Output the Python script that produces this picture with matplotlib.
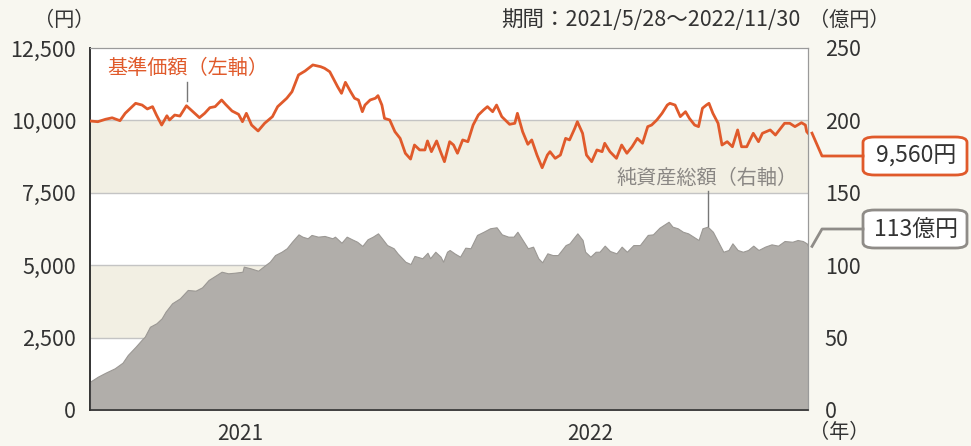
import pandas as pd
import matplotlib
matplotlib.use("Agg")
import matplotlib.pyplot as plt
import matplotlib.dates as mdates
from matplotlib.lines import Line2D
from matplotlib.patches import FancyBboxPatch

plt.rcParams['font.family'] = ['Noto Sans CJK JP', 'DejaVu Sans']

# period
start_date = "2021-05-28"
end_date = "2022-11-30"
period_label = "期間：2021/5/28～2022/11/30"

# 基準価額 (円) : days since start, value
nav_days = [0, 6, 12, 17, 23, 27, 35, 40, 44, 48, 51, 55, 59, 61, 65, 69, 74, 79, 84, 88,
            92, 96, 101, 104, 109, 114, 117, 120, 124, 129, 134, 140, 144, 151, 155, 160, 165,
            171, 177, 180, 184, 186, 190, 193, 196, 200, 203, 206, 209, 211, 215, 219, 221,
            224, 226, 230, 234, 238, 242, 246, 249, 253, 257, 259, 262, 266, 269, 272, 276,
            279, 282, 286, 290, 294, 298, 302, 305, 309, 312, 316, 320, 322, 326, 328, 332,
            336, 339, 343, 347, 351, 353, 357, 361, 365, 368, 372, 374, 378, 381, 385, 389,
            393, 395, 399, 404, 408, 412, 416, 420, 424, 428, 431, 435, 439, 443, 445, 449,
            453, 457, 460, 464, 467, 470, 473, 475, 478, 482, 485, 489, 493, 497, 500, 504,
            509, 513, 516, 522, 526, 530, 533, 537, 541, 546, 549, 550, 551]
nav_values = [9980, 9955, 10040, 10090, 9990, 10245, 10590, 10530, 10395, 10475, 10185, 9840,
              10160, 10015, 10185, 10150, 10505, 10300, 10095, 10245, 10440, 10475, 10705,
              10555, 10325, 10210, 9955, 10245, 9840, 9635, 9900, 10130, 10475, 10765, 10990,
              11570, 11705, 11915, 11855, 11800, 11680, 11510, 11165, 10935, 11315, 10990,
              10765, 10705, 10300, 10530, 10705, 10765, 10855, 10530, 10070, 10015, 9610,
              9380, 8865, 8665, 9150, 8980, 8980, 9290, 8920, 9290, 8920, 8575, 9265, 9150,
              8865, 9325, 9265, 9840, 10185, 10360, 10475, 10300, 10530, 10130, 9955, 9865,
              9900, 10245, 9610, 9175, 9325, 8805, 8365, 8805, 8920, 8690, 8805, 9380, 9325,
              9725, 9955, 9555, 8805, 8575, 8980, 8920, 9210, 8920, 8690, 9150, 8865, 9090,
              9380, 9210, 9785, 9840, 10015, 10245, 10530, 10590, 10530, 10130, 10300, 10070,
              9840, 9785, 10420, 10530, 10590, 10245, 9900, 9150, 9265, 9090, 9670, 9090,
              9090, 9555, 9265, 9555, 9670, 9495, 9725, 9900, 9900, 9785, 9920, 9840, 9610,
              9560]

# 純資産総額 (億円)
aum_days = [0, 6, 12, 19, 25, 29, 35, 40, 42, 46, 51, 55, 58, 63, 69, 75, 81, 86, 91, 97,
            101, 106, 111, 117, 118, 123, 129, 133, 138, 142, 147, 151, 155, 160, 163, 167,
            170, 175, 180, 186, 188, 193, 197, 201, 205, 209, 213, 217, 221, 224, 228, 233,
            236, 242, 246, 249, 255, 259, 261, 265, 269, 271, 274, 276, 280, 284, 288, 292,
            297, 302, 307, 312, 316, 321, 325, 328, 332, 336, 340, 344, 347, 351, 355, 359,
            365, 368, 371, 374, 378, 380, 384, 388, 391, 395, 399, 404, 408, 412, 417, 422,
            428, 432, 437, 444, 447, 451, 455, 459, 463, 467, 470, 474, 478, 482, 486, 490,
            493, 497, 501, 505, 509, 513, 518, 523, 528, 533, 539, 543, 547, 550, 551]
aum_values = [19.5, 23, 25.8, 28.8, 32.7, 38, 43.7, 48.8, 50.6, 57.5, 59.9, 63.3, 67.9, 73.7,
              77.1, 82.9, 82.4, 84.7, 89.8, 93.2, 95.5, 94.4, 94.8, 95.5, 99, 97.9, 96.2, 99,
              102.4, 107, 109.3, 111.7, 116.2, 121.3, 119.7, 118.6, 120.9, 119.7, 120.2, 118.6,
              119.7, 115.5, 119.7, 117.9, 116.2, 113.3, 117.9, 119.7, 122, 118.6, 113.9, 111.7,
              108.2, 102.4, 100.8, 106.4, 104.8, 108.6, 104.8, 109.3, 105.9, 102.4, 109.3,
              110.5, 108, 105.9, 112.1, 111.7, 120.9, 123.1, 125.5, 126.2, 121.3, 119.7, 119.7,
              123.1, 117.4, 111.7, 112.8, 104.8, 102, 108.2, 107, 107, 113.9, 115.1, 118.6, 122,
              117.4, 109.3, 105.9, 109.3, 109.3, 113.5, 109.8, 108.2, 112.8, 109.3, 113.9,
              113.9, 120.9, 121.3, 125.9, 130, 126.6, 125.5, 123.1, 122, 119.7, 117.4, 125.5,
              126.6, 123.1, 116.2, 109.3, 110.5, 115.1, 110.5, 109.3, 110.5, 113.5, 110.5,
              112.8, 114.4, 113.5, 116.7, 116.2, 117.4, 116.7, 115.1, 113]

left_ticks = [0, 2500, 5000, 7500, 10000, 12500]
right_ticks = [0, 50, 100, 150, 200, 250]
bands = [(2500, 5000), (7500, 10000)]
year_labels = ["2021", "2022"]
year_label_dates = ["2021-09-20", "2022-06-16"]
year_tick = "2022-01-01"
nav_last_label = "9,560円"
aum_last_label = "113億円"

W, H = 971, 446
BG = "#f8f7f0"
BAND = "#f2efe3"
ORANGE = "#e05a2b"
GRAY_FILL = "#b1aeaa"
TXT = "#333333"

def fx(px):
    return px / W

def fy(py):
    return 1 - py / H

t0 = pd.Timestamp(start_date)
nav_dates = t0 + pd.to_timedelta(nav_days, unit="D")
aum_dates = t0 + pd.to_timedelta(aum_days, unit="D")

fig = plt.figure(figsize=(W / 100, H / 100), dpi=100, facecolor=BG)
ax = fig.add_axes([fx(90), fy(410), fx(808) - fx(90), fy(48) - fy(410)])
ax.set_facecolor("white")
ax2 = ax.twinx()

ax.set_xlim(pd.Timestamp(start_date), pd.Timestamp(end_date))
ax.set_ylim(0, 12500)
ax2.set_ylim(0, 250)

for lo, hi in bands:
    ax.axhspan(lo, hi, color=BAND, zorder=0, lw=0)
for v in left_ticks[1:-1]:
    ax.axhline(v, color="#c4c4c4", lw=1.0, zorder=0.5)

ax2.fill_between(aum_dates, aum_values, 0, color=GRAY_FILL, lw=0.8,
                 edgecolor="#9b9894", zorder=1)
ax2.set_zorder(ax.get_zorder() + 1)
ax2.patch.set_visible(False)
ax2.plot(nav_dates, [v / 12500 * 250 for v in nav_values], color=ORANGE, lw=2.0,
         zorder=3, solid_joinstyle="round")

# axes styling
for a in (ax, ax2):
    a.spines["top"].set_color("#9a9a9a")
    a.spines["right"].set_color("#9a9a9a")
    a.spines["left"].set_color("#333333")
    a.spines["bottom"].set_color("#333333")
    a.spines["left"].set_linewidth(1.2)
    a.spines["bottom"].set_linewidth(1.2)

ax.set_yticks(left_ticks)
ax.set_yticklabels([f"{v:,}" for v in left_ticks])
ax.tick_params(axis="y", length=0, pad=10, labelsize=15.5, labelcolor=TXT)
ax2.set_yticks(right_ticks)
ax2.tick_params(axis="y", length=0, pad=12, labelsize=15.5, labelcolor=TXT)
ax.set_xticks([pd.Timestamp(year_tick)])
ax.set_xticklabels([""])
ax.tick_params(axis="x", direction="in", length=8, width=1, color="#333333")
ax2.tick_params(axis="x", length=0)

for lbl, d in zip(year_labels, year_label_dates):
    ax.text(pd.Timestamp(d), -0.066, lbl, transform=ax.get_xaxis_transform(),
            ha="center", va="center", fontsize=15, color=TXT)

fig.text(fx(64), fy(20), "（円）", ha="center", va="center", fontsize=14.5, color=TXT)
fig.text(fx(849), fy(20), "（億円）", ha="center", va="center", fontsize=14.5, color=TXT)
fig.text(fx(800), fy(20), period_label, ha="right", va="center", fontsize=15.5, color=TXT)
fig.text(fx(839), fy(433), "（年）", ha="center", va="center", fontsize=14.5, color=TXT)

# series labels with leader lines
fig.text(fx(188), fy(68), "基準価額（左軸）", ha="center", va="center", fontsize=14.5, color=ORANGE)
fig.add_artist(Line2D([fx(187), fx(187)], [fy(82), fy(101)], color="#777777", lw=1))
fig.text(fx(707), fy(178), "純資産総額（右軸）", ha="center", va="center", fontsize=14.5, color="#8a8784")
fig.add_artist(Line2D([fx(708), fx(708)], [fy(191), fy(226)], color="#777777", lw=1))

# end-value callouts, connected to last data points
fig.canvas.draw()
inv = fig.transFigure.inverted()
nav_end = inv.transform(ax2.transData.transform(
    (mdates.date2num(nav_dates[-1]), nav_values[-1] / 12500 * 250)))
aum_end = inv.transform(ax2.transData.transform(
    (mdates.date2num(aum_dates[-1]), aum_values[-1])))

for end, py, label, col in [(nav_end, 156, nav_last_label, ORANGE),
                            (aum_end, 229, aum_last_label, "#8f8c88")]:
    fig.add_artist(Line2D([end[0] + fx(4), fx(822), fx(863)],
                          [end[1], fy(py), fy(py)], color=col, lw=2))
    box = FancyBboxPatch((fx(863), fy(py + 19)), fx(104), fy(py - 19) - fy(py + 19),
                         boxstyle="round,pad=0,rounding_size=0.012",
                         transform=fig.transFigure, facecolor="white",
                         edgecolor=col, lw=2)
    fig.add_artist(box)
    fig.text(fx(916), fy(py), label, ha="center", va="center", fontsize=16.5, color=TXT)

fig.savefig("out.png", dpi=100, facecolor=BG)
